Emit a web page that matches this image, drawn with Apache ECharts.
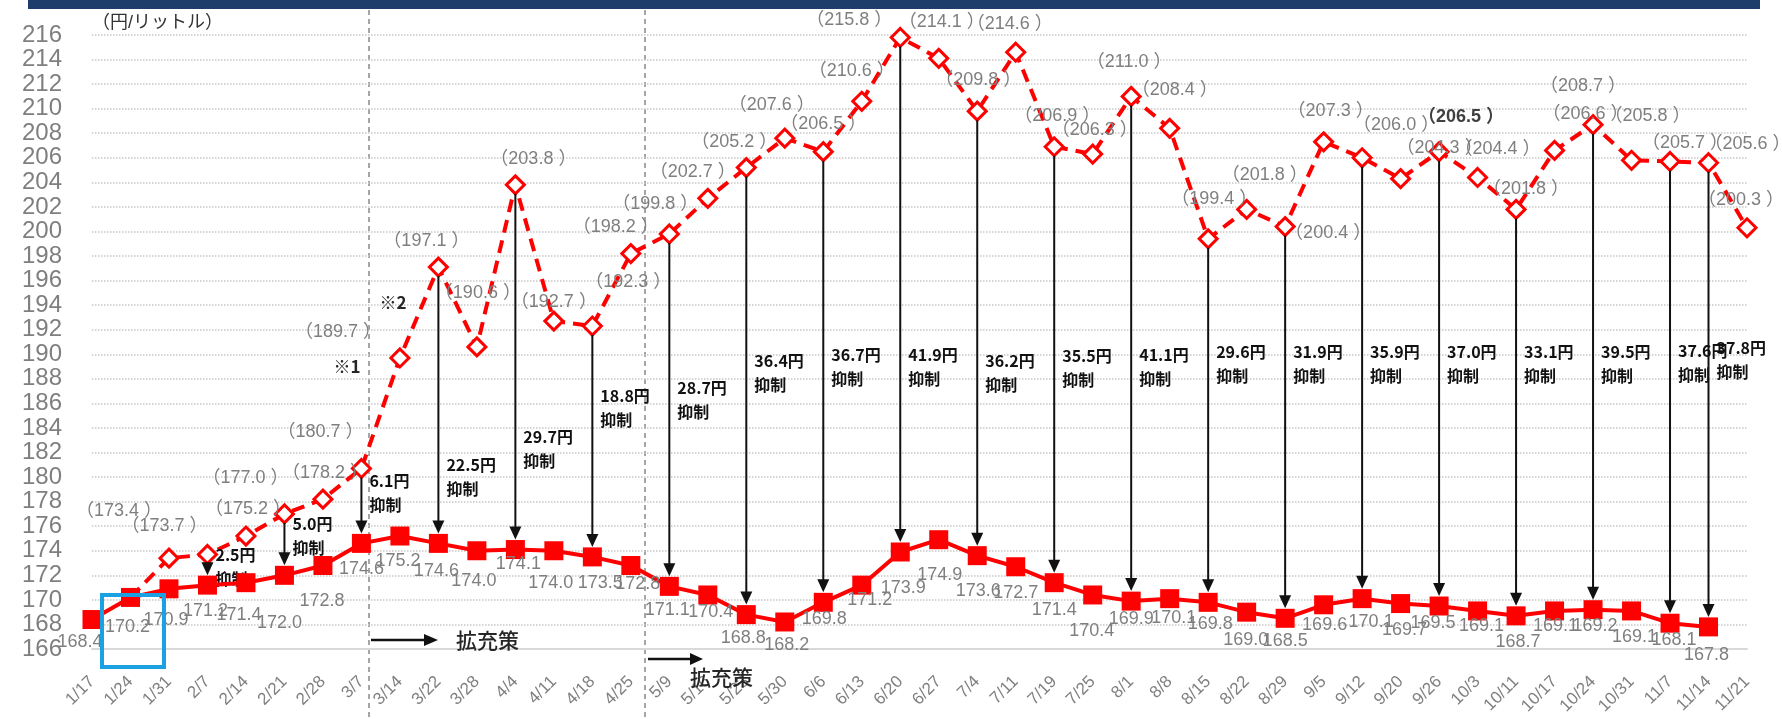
<!DOCTYPE html>
<html>
<head>
<meta charset="utf-8">
<script src="https://cdn.jsdelivr.net/npm/echarts@6/dist/echarts.min.js"></script>
<style>
  html, body { margin: 0; padding: 0; background: #fff; }
  #chart { width: 1782px; height: 719px; }
</style>
</head>
<body>
<div id="chart"></div>
<script>
// 週ごとの調査日
const dates = ['1/17','1/24','1/31','2/7','2/14','2/21','2/28','3/7','3/14','3/22','3/28','4/4','4/11','4/18','4/25',
  '5/9','5/16','5/23','5/30','6/6','6/13','6/20','6/27','7/4','7/11','7/19','7/25','8/1','8/8','8/15','8/22','8/29',
  '9/5','9/12','9/20','9/26','10/3','10/11','10/17','10/24','10/31','11/7','11/14','11/21'];

// 実際の価格（実線）
const actual = [168.4,170.2,170.9,171.2,171.4,172.0,172.8,174.6,175.2,174.6,174.0,174.1,174.0,173.5,172.8,
  171.1,170.4,168.8,168.2,169.8,171.2,173.9,174.9,173.6,172.7,171.4,170.4,169.9,170.1,169.8,169.0,168.5,
  169.6,170.1,169.7,169.5,169.1,168.7,169.1,169.2,169.1,168.1,167.8,null];

// 支援がなかった場合の価格（破線）
const withoutSupport = [null,170.2,173.4,173.7,175.2,177.0,178.2,180.7,189.7,197.1,190.6,203.8,192.7,192.3,198.2,
  199.8,202.7,205.2,207.6,206.5,210.6,215.8,214.1,209.8,214.6,206.9,206.3,211.0,208.4,199.4,201.8,200.4,
  207.3,206.0,204.3,206.5,204.4,201.8,206.6,208.7,205.8,205.7,205.6,200.3];

// 抑制額の矢印を描く日
const arrowDates = ['2/7','2/21','3/7','3/22','4/4','4/18','5/9','5/23','6/6','6/20','7/4','7/19','8/1',
  '8/15','8/29','9/12','9/26','10/11','10/24','11/7','11/14'];

// 抑制額ラベルの高さ（軸の値）
const arrowLabelLevel = [172.7,175.2,178.7,180.0,182.3,185.6,186.3,188.5,189.0,189.0,188.5,188.9,189.0,
  189.2,189.2,189.2,189.2,189.2,189.2,189.3,189.5];

const yTicks = { min: 166, max: 216, step: 2 };

// ラベルのずらし量 (px)
const dashOffsets = [[0,0],[0,0],[-50,-47],[-43,-28],[2,-27],[-39,-36],[2,-26],[-41,-36],[-62,-26],[-12,-26],
  [1,-54],[18,-26],[0,-19],[36,-44],[-15,-27],[-14,-30],[-15,-26],[-12,-26],[-13,-33],[0,-28],[-10,-30],
  [-51,-17],[3,-36],[1,-31],[-6,-28],[3,-31],[2,-24],[-2,-34],[5,-38],[6,-40],[18,-34],[43,6],[7,-31],
  [34,-33],[39,-31],[22,-35],[20,-28],[10,-20],[31,-36],[-10,-39],[16,-44],[15,-18],[39,-19],[-6,-28]];
const solidOffsets = [[-12,23],[-3,30],[-3,31],[-2,26],[-7,32],[-5,48],[-1,36],[0,26],[-2,25],[-2,28],[-3,30],
  [3,14],[-3,32],[8,26],[7,19],[-2,24],[3,17],[-3,23],[2,23],[1,17],[8,15],[3,36],[1,35],[1,35],[0,26],[0,27],
  [-1,36],[0,18],[4,19],[2,22],[-1,28],[0,23],[1,20],[9,23],[4,26],[-6,17],[4,15],[2,26],[1,15],[2,16],[3,26],
  [4,17],[-2,28],[0,0]];

const FONT = '"Liberation Sans", "Noto Sans CJK JP", sans-serif';
const GREY = '#7f7f7f';

const dashData = withoutSupport.map((v, i) => {
  if (v == null) return null;
  const item = {
    value: v,
    label: { offset: dashOffsets[i] }
  };
  if (i === 1) { item.symbolSize = 0; item.label.show = false; }
  if (dates[i] === '9/26') { item.label.fontWeight = 'bold'; item.label.color = '#404040'; }
  return item;
});

const solidData = actual.map((v, i) => v == null ? null : { value: v, label: { offset: solidOffsets[i] } });

const arrowData = arrowDates.map((d, i) => {
  const idx = dates.indexOf(d);
  return [idx, withoutSupport[idx], actual[idx], arrowLabelLevel[i]];
});

const chart = echarts.init(document.getElementById('chart'));
chart.setOption({
  animation: false,
  textStyle: { fontFamily: FONT },
  grid: { left: 92, right: 35, top: 35, bottom: 70, containLabel: false },
  xAxis: {
    type: 'category', data: dates, boundaryGap: false,
    axisLine: { lineStyle: { color: '#d9d9d9', width: 2 } },
    axisTick: { show: false },
    axisLabel: { interval: 0, rotate: 45, color: GREY, fontSize: 17, margin: 30, fontFamily: FONT }
  },
  yAxis: {
    type: 'value', min: yTicks.min, max: yTicks.max, interval: yTicks.step,
    name: '（円/リットル）', nameLocation: 'end', nameGap: 3,
    nameTextStyle: { color: '#333', fontSize: 18, align: 'left', fontFamily: FONT },
    axisLine: { show: false }, axisTick: { show: false },
    axisLabel: { color: GREY, fontSize: 24, margin: 30, fontFamily: FONT },
    splitLine: { lineStyle: { color: '#c8c8c8', type: 'dotted', width: 1.5 } }
  },
  graphic: [
    { type: 'rect', shape: { x: 28, y: 0, width: 1732, height: 9 }, style: { fill: '#1f3d6b' }, z: 10 },
    { type: 'line', shape: { x1: 369, y1: 10, x2: 369, y2: 719 }, style: { stroke: '#a6a6a6', lineWidth: 2, lineDash: [5, 4] }, z: 0 },
    { type: 'line', shape: { x1: 645, y1: 10, x2: 645, y2: 719 }, style: { stroke: '#a6a6a6', lineWidth: 2, lineDash: [5, 4] }, z: 0 },
    { type: 'line', shape: { x1: 371, y1: 640, x2: 426, y2: 640 }, style: { stroke: '#111', lineWidth: 2.5 }, z: 10 },
    { type: 'polygon', shape: { points: [[424, 634], [438, 640], [424, 646]] }, style: { fill: '#111' }, z: 10 },
    { type: 'text', x: 456, y: 640, style: { text: '拡充策', font: '500 21px "Noto Sans CJK JP"', fill: '#262626', verticalAlign: 'middle' }, z: 10 },
    { type: 'line', shape: { x1: 648, y1: 659, x2: 692, y2: 659 }, style: { stroke: '#111', lineWidth: 2.5 }, z: 10 },
    { type: 'polygon', shape: { points: [[690, 653], [703, 659], [690, 665]] }, style: { fill: '#111' }, z: 10 },
    { type: 'text', x: 690, y: 677, style: { text: '拡充策', font: '500 21px "Noto Sans CJK JP"', fill: '#262626', verticalAlign: 'middle' }, z: 10 },
    { type: 'rect', shape: { x: 102, y: 595, width: 62, height: 72 }, style: { fill: 'none', stroke: '#1ba1e2', lineWidth: 4 }, z: 10 },
    { type: 'text', x: 347, y: 367, style: { text: '※1', font: 'bold 17px "Noto Sans CJK JP"', fill: '#262626', align: 'center', verticalAlign: 'middle' }, z: 10 },
    { type: 'text', x: 393, y: 303, style: { text: '※2', font: 'bold 17px "Noto Sans CJK JP"', fill: '#262626', align: 'center', verticalAlign: 'middle' }, z: 10 }
  ],
  series: [
    {
      name: '補助なし', type: 'line', data: dashData, z: 3,
      showAllSymbol: true, connectNulls: false,
      symbol: 'diamond', symbolSize: 18,
      lineStyle: { color: '#ff0000', width: 4, type: [13, 8] },
      itemStyle: { color: '#ffffff', borderColor: '#ff0000', borderWidth: 3 },
      label: {
        show: true, position: 'inside', color: GREY, fontSize: 18, fontFamily: FONT,
        formatter: p => '（' + Number(p.value).toFixed(1) + ' ）'
      }
    },
    {
      name: '抑制効果', type: 'custom', z: 4, clip: false,
      encode: { x: 0, y: 1 },
      data: arrowData,
      renderItem: (params, api) => {
        const top = api.coord([api.value(0), api.value(1)]);
        const bottom = api.coord([api.value(0), api.value(2)]);
        const labelY = api.coord([api.value(0), api.value(3)])[1];
        const x = top[0];
        const y0 = top[1] + 9;
        const tip = bottom[1] - 10;
        const head = 13;
        const diff = (api.value(1) - api.value(2)).toFixed(1);
        return {
          type: 'group',
          children: [
            { type: 'line', shape: { x1: x, y1: y0, x2: x, y2: tip - head + 2 }, style: { stroke: '#111', lineWidth: 2 } },
            { type: 'polygon', shape: { points: [[x - 6, tip - head], [x + 6, tip - head], [x, tip]] }, style: { fill: '#111' } },
            { type: 'text', x: x + 8, y: labelY,
              style: { text: diff + '円\n抑制', fill: '#111', font: 'bold 16px "Noto Sans CJK JP"', align: 'left', verticalAlign: 'middle', lineHeight: 24 } }
          ]
        };
      }
    },
    {
      name: '実際の価格', type: 'line', data: solidData, z: 5,
      showAllSymbol: true,
      symbol: 'rect', symbolSize: 19,
      lineStyle: { color: '#ff0000', width: 4 },
      itemStyle: { color: '#ff0000' },
      label: {
        show: true, position: 'inside', color: GREY, fontSize: 18, fontFamily: FONT,
        formatter: p => Number(p.value).toFixed(1)
      }
    }
  ]
});
</script>
</body>
</html>
